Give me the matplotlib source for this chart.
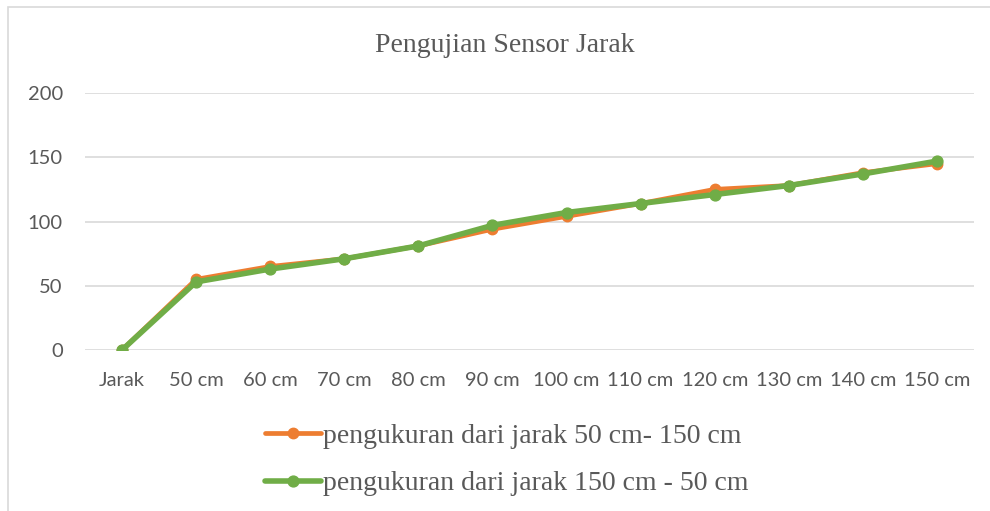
import matplotlib
matplotlib.use("Agg")
import matplotlib.pyplot as plt
from matplotlib.patches import Rectangle

categories = ["Jarak", "50 cm", "60 cm", "70 cm", "80 cm", "90 cm", "100 cm",
              "110 cm", "120 cm", "130 cm", "140 cm", "150 cm"]
naik = [0, 55, 65, 71, 81, 94, 104, 114, 125, 128, 138, 145]
turun = [0, 53, 63, 71, 81, 97, 107, 114, 121, 128, 137, 147]
yticks = [0, 50, 100, 150, 200]

label_naik = "pengukuran dari jarak 50 cm- 150 cm"
label_turun = "pengukuran dari jarak 150 cm - 50 cm"
title = "Pengujian Sensor Jarak"

orange = "#ED7D31"
green = "#70AD47"
text_gray = "#595959"
grid_gray = "#D9D9D9"

W, H = 990, 511
fig = plt.figure(figsize=(W / 100, H / 100), dpi=100)

# chart frame (top and left edges visible)
fig.patches.append(Rectangle((8 / W, -0.1), 1.2, 1 - 7 / H + 0.1,
                             transform=fig.transFigure, fill=False,
                             edgecolor=grid_gray, linewidth=1.2))

left, right, top, bottom = 85, 974, 93, 350
ax = fig.add_axes([left / W, 1 - bottom / H, (right - left) / W, (bottom - top) / H])

x = list(range(len(categories)))
ax.plot(x, naik, color=orange, linewidth=3.4, marker="o", markersize=7.5,
        label=label_naik, solid_capstyle="round", zorder=3)
ax.plot(x, turun, color=green, linewidth=4.0, marker="o", markersize=7.8,
        label=label_turun, solid_capstyle="round", zorder=4)

ax.set_xlim(-0.5, len(categories) - 0.5)
ax.set_ylim(0, 200)
ax.set_yticks(yticks)
ax.set_xticks(x)
ax.set_xticklabels(categories)
for s in ax.spines.values():
    s.set_visible(False)
ax.grid(axis="y", color=grid_gray, linewidth=1.2)
ax.set_axisbelow(True)
ax.tick_params(length=0, labelsize=14.5, labelcolor=text_gray)
ax.tick_params(axis="x", pad=16)
ax.tick_params(axis="y", pad=16)
for lbl in ax.get_xticklabels() + ax.get_yticklabels():
    lbl.set_family(["Lato", "DejaVu Sans"])

fig.text(505 / W, 1 - 46 / H, title, ha="center", va="center",
         fontsize=20, color=text_gray, family="Liberation Serif")

fig.legend(loc="center", bbox_to_anchor=(507 / W, 1 - 460 / H), ncol=1,
           frameon=False, prop={"family": "Liberation Serif", "size": 20},
           labelcolor=text_gray, handlelength=2.0, handletextpad=0.08,
           labelspacing=0.78)

fig.savefig("out.png", dpi=100)
